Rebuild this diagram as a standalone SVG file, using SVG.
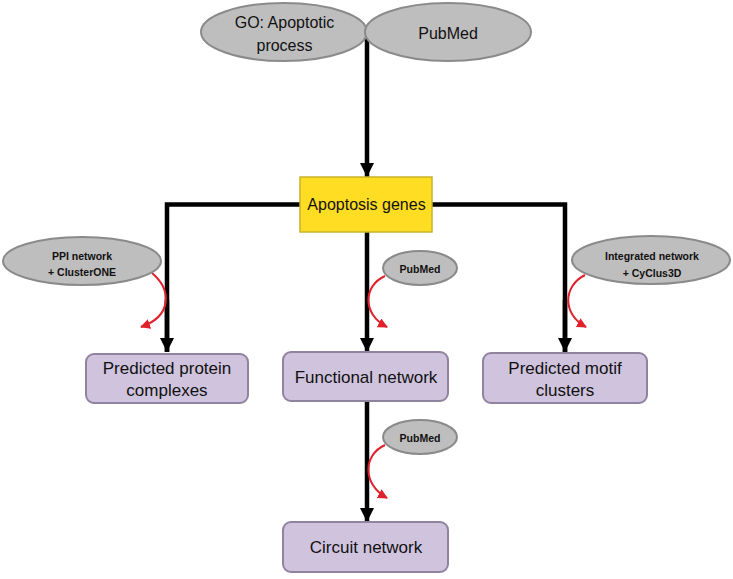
<svg xmlns="http://www.w3.org/2000/svg" width="733" height="579" viewBox="0 0 733 579">
<defs>
<style>
.ell{fill:#bfbebe;stroke:#8a8a8a;stroke-width:2}
.box{fill:#d0c3de;stroke:#8f83a0;stroke-width:2}
.gene{fill:#ffdd22;stroke:#c9b32a;stroke-width:1.5}
.t{font-family:"Liberation Sans",Arial,sans-serif;fill:#111;text-anchor:middle}
.big{font-size:16px}
.mid{font-size:17px}
.sm{font-size:10.5px;font-weight:bold}
.blk{fill:none;stroke:#000;stroke-width:4.5}
.red{fill:none;stroke:#e0202a;stroke-width:2}
</style>
<marker id="ah" viewBox="0 0 10 10" refX="10" refY="5" markerWidth="3.2" markerHeight="3.2" markerUnits="strokeWidth" orient="auto">
<path d="M0,0 L10,5 L0,10 z" fill="#000"/>
</marker>
<marker id="rh" viewBox="0 0 10 10" refX="9" refY="5" markerWidth="5" markerHeight="5" markerUnits="strokeWidth" orient="auto">
<path d="M0,0 L10,5 L0,10 z" fill="#e0202a"/>
</marker>
</defs>
<rect width="733" height="579" fill="#fff"/>
<g id="connectors">
<path class="blk" d="M367,36 V177" marker-end="url(#ah)"/>
<path class="blk" d="M167,352 V204.5 H565 V352"/>
<path class="blk" d="M167,300 V352" marker-end="url(#ah)"/>
<path class="blk" d="M565,300 V352" marker-end="url(#ah)"/>
<path class="blk" d="M367,232 V352" marker-end="url(#ah)"/>
<path class="blk" d="M367,401 V522" marker-end="url(#ah)"/>
<path class="red" d="M152,273 C172,290 172,316 141,327" marker-end="url(#rh)"/>
<path class="red" d="M385,276 C363,286 362,314 387,327" marker-end="url(#rh)"/>
<path class="red" d="M585,275 C563,286 562,314 586,327" marker-end="url(#rh)"/>
<path class="red" d="M385,445 C363,455 362,484 387,498" marker-end="url(#rh)"/>
</g>
<g id="go">
<ellipse class="ell" cx="284" cy="32" rx="83" ry="29"/>
<text class="t big" x="284.5" y="28">GO: Apoptotic</text>
<text class="t big" x="284.5" y="51">process</text>
</g>
<g id="pubmed-top">
<ellipse class="ell" cx="448" cy="32" rx="83" ry="29"/>
<text class="t big" x="448" y="39">PubMed</text>
</g>
<g id="apoptosis-genes">
<rect class="gene" x="300" y="177" width="132" height="55"/>
<text class="t big" x="366.5" y="210">Apoptosis genes</text>
</g>
<g id="ppi">
<ellipse class="ell" cx="82" cy="261" rx="79" ry="24"/>
<text class="t sm" x="82" y="260">PPI network</text>
<text class="t sm" x="82" y="276">+ ClusterONE</text>
</g>
<g id="pubmed-mid">
<ellipse class="ell" cx="420" cy="268" rx="37" ry="17"/>
<text class="t sm" x="420" y="272.5">PubMed</text>
</g>
<g id="integrated">
<ellipse class="ell" cx="651" cy="260" rx="79" ry="24"/>
<text class="t sm" x="652" y="260">Integrated network</text>
<text class="t sm" x="652" y="277">+ CyClus3D</text>
</g>
<g id="complexes">
<rect class="box" x="86" y="354" width="162" height="49" rx="8"/>
<text class="t mid" x="167" y="374">Predicted protein</text>
<text class="t mid" x="167" y="396">complexes</text>
</g>
<g id="functional">
<rect class="box" x="283" y="352" width="165" height="49" rx="8"/>
<text class="t mid" x="366" y="383">Functional network</text>
</g>
<g id="motif">
<rect class="box" x="483" y="353" width="164" height="50" rx="8"/>
<text class="t mid" x="565" y="374">Predicted motif</text>
<text class="t mid" x="565" y="396">clusters</text>
</g>
<g id="pubmed-bottom">
<ellipse class="ell" cx="420" cy="437" rx="37" ry="17"/>
<text class="t sm" x="420" y="441.5">PubMed</text>
</g>
<g id="circuit">
<rect class="box" x="283" y="522" width="165" height="50" rx="8"/>
<text class="t mid" x="366" y="553">Circuit network</text>
</g>
</svg>
